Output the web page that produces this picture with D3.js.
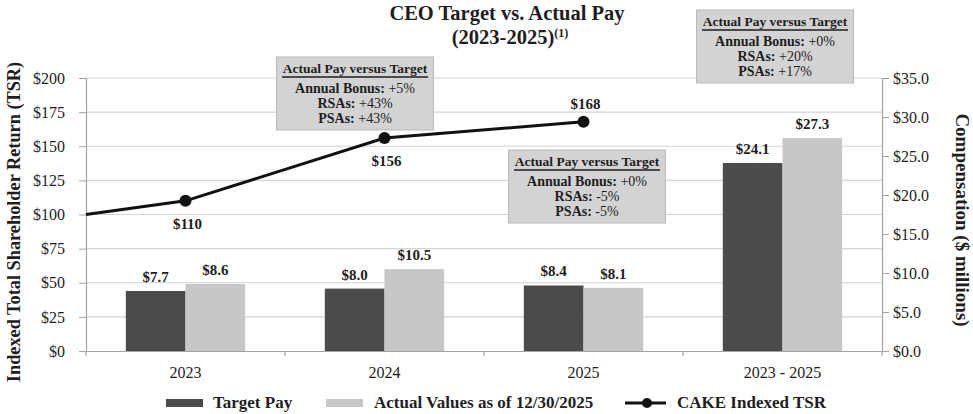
<!DOCTYPE html>
<html>
<head>
<meta charset="utf-8">
<script src="https://cdn.jsdelivr.net/npm/d3@7/dist/d3.min.js"></script>
<style>
  html, body { margin: 0; padding: 0; background: #fff; }
  svg { display: block; font-family: "Liberation Serif", "Times New Roman", serif; }
</style>
</head>
<body>
<svg id="chart" width="973" height="414"></svg>
<script>
// ---------- DATA ----------
const categories = ["2023", "2024", "2025", "2023 - 2025"];
const targetPay = [7.7, 8.0, 8.4, 24.1];
const actualPay = [8.6, 10.5, 8.1, 27.3];
const tsrCategories = ["2023", "2024", "2025"];
const tsrStart = 100;
const tsrValues = [110, 156, 168];
const tsrLabelSide = ["below", "below", "above"];
const leftTicks = [0, 25, 50, 75, 100, 125, 150, 175, 200];
const rightTicks = [0, 5, 10, 15, 20, 25, 30, 35];
const boxBonus = ["+5%", "+0%", "+0%"];
const boxRSAs = ["+43%", "-5%", "+20%"];
const boxPSAs = ["+43%", "-5%", "+17%"];
const legendLabels = ["Target Pay", "Actual Values as of 12/30/2025", "CAKE Indexed TSR"];

// ---------- LAYOUT ----------
const plot = { left: 86, right: 882, top: 78, bottom: 351 };
const boxLayout = [ { cx: 355, top: 57 }, { cx: 587, top: 150 }, { cx: 775, top: 10 } ];
const colors = { target: "#4b4b4d", actual: "#c7c7c9", grid: "#d3d3d3", axis: "#a3a3a3", text: "#1e1e1e", box: "#d3d3d3", boxStroke: "#b9b9b9", line: "#111" };

const svg = d3.select("#chart");

const x0 = d3.scaleBand().domain(categories).range([plot.left, plot.right]).paddingInner(0).paddingOuter(0);
const x1 = d3.scaleBand().domain(["target", "actual"]).range([0, x0.bandwidth()]).paddingInner(0).paddingOuter(0.667);
const yL = d3.scaleLinear().domain([0, 200]).range([plot.bottom, plot.top]);
const yR = d3.scaleLinear().domain([0, 35]).range([plot.bottom, plot.top]);

// gridlines
svg.append("g").selectAll("line").data(leftTicks.filter(d => d > 0)).join("line")
  .attr("x1", plot.left).attr("x2", plot.right)
  .attr("y1", d => yL(d)).attr("y2", d => yL(d))
  .attr("stroke", colors.grid).attr("stroke-width", 1.2);

// left axis
const gL = svg.append("g").attr("transform", `translate(${plot.left},0)`)
  .call(d3.axisLeft(yL).tickValues(leftTicks).tickFormat(d => "$" + d).tickSizeInner(7).tickSizeOuter(0).tickPadding(14));
gL.select(".domain").attr("stroke", colors.axis).attr("stroke-width", 1.2);
gL.selectAll(".tick line").attr("stroke", colors.axis);
gL.selectAll(".tick text").attr("font-size", 16).attr("fill", colors.text).attr("font-family", "Liberation Serif");

// right axis
const gR = svg.append("g").attr("transform", `translate(${plot.right},0)`)
  .call(d3.axisRight(yR).tickValues(rightTicks).tickFormat(d => "$" + d.toFixed(1)).tickSizeInner(7).tickSizeOuter(0).tickPadding(4));
gR.select(".domain").attr("stroke", colors.axis).attr("stroke-width", 1.2);
gR.selectAll(".tick line").attr("stroke", colors.axis);
gR.selectAll(".tick text").attr("font-size", 16).attr("fill", colors.text).attr("font-family", "Liberation Serif");

// bottom axis
const gB = svg.append("g").attr("transform", `translate(0,${plot.bottom})`)
  .call(d3.axisBottom(x0).tickSize(0).tickPadding(16));
gB.select(".domain").attr("stroke", colors.axis).attr("stroke-width", 1.2);
gB.selectAll(".tick text").attr("font-size", 16).attr("fill", colors.text).attr("font-family", "Liberation Serif");
const boundaries = categories.map(c => x0(c)).concat([x0.range()[1]]);
svg.append("g").selectAll("line").data(boundaries).join("line")
  .attr("x1", d => d).attr("x2", d => d)
  .attr("y1", plot.bottom).attr("y2", plot.bottom + 5)
  .attr("stroke", colors.axis).attr("stroke-width", 1.2);

// bars
const barData = categories.map((c, i) => ({ cat: c, target: targetPay[i], actual: actualPay[i] }));
const groups = svg.append("g").selectAll("g").data(barData).join("g")
  .attr("transform", d => `translate(${x0(d.cat)},0)`);
const keys = ["target", "actual"];
groups.selectAll("rect").data(d => keys.map(k => ({ key: k, value: d[k] }))).join("rect")
  .attr("x", d => x1(d.key)).attr("width", x1.bandwidth())
  .attr("y", d => yR(d.value)).attr("height", d => yR(0) - yR(d.value))
  .attr("fill", d => colors[d.key]);
groups.selectAll("text").data(d => keys.map(k => ({ key: k, value: d[k] }))).join("text")
  .attr("x", d => x1(d.key) + x1.bandwidth() / 2)
  .attr("y", d => yR(d.value) - 9)
  .attr("text-anchor", "middle").attr("font-size", 15).attr("font-weight", "bold").attr("fill", colors.text)
  .text(d => "$" + d.value.toFixed(1));

// TSR line
const xc = c => x0(c) + x0.bandwidth() / 2;
const linePts = [{ x: x0.range()[0], y: yL(tsrStart) }].concat(tsrCategories.map((c, i) => ({ x: xc(c), y: yL(tsrValues[i]) })));
svg.append("path").datum(linePts)
  .attr("d", d3.line().x(d => d.x).y(d => d.y))
  .attr("fill", "none").attr("stroke", colors.line).attr("stroke-width", 3);
svg.append("g").selectAll("circle").data(tsrCategories).join("circle")
  .attr("cx", d => xc(d)).attr("cy", (d, i) => yL(tsrValues[i])).attr("r", 6)
  .attr("fill", colors.line);
svg.append("g").selectAll("text").data(tsrCategories).join("text")
  .attr("x", d => xc(d) + 2)
  .attr("y", (d, i) => yL(tsrValues[i]) + (tsrLabelSide[i] === "above" ? -13 : 28))
  .attr("text-anchor", "middle").attr("font-size", 15).attr("font-weight", "bold").attr("fill", colors.text)
  .text((d, i) => "$" + tsrValues[i]);

// annotation boxes
const boxW = 157, boxH = 73;
boxLayout.forEach((b, i) => {
  const g = svg.append("g").attr("transform", `translate(${b.cx},${b.top})`);
  g.append("rect").attr("x", -boxW / 2).attr("y", 0).attr("width", boxW).attr("height", boxH)
    .attr("fill", colors.box).attr("stroke", colors.boxStroke).attr("stroke-width", 1);
  g.append("text").attr("x", 0).attr("y", 16).attr("text-anchor", "middle")
    .attr("font-size", 13.5).attr("font-weight", "bold").attr("fill", colors.text)
    .text("Actual Pay versus Target");
  g.append("line").attr("x1", -73).attr("x2", 73).attr("y1", 20).attr("y2", 20)
    .attr("stroke", colors.text).attr("stroke-width", 1.3);
  const rows = [["Annual Bonus:", boxBonus[i]], ["RSAs:", boxRSAs[i]], ["PSAs:", boxPSAs[i]]];
  rows.forEach((r, j) => {
    const t = g.append("text").attr("x", 0).attr("y", 36 + j * 15).attr("text-anchor", "middle")
      .attr("font-size", 14).attr("fill", colors.text);
    t.append("tspan").attr("font-weight", "bold").text(r[0]);
    t.append("tspan").text(" " + r[1]);
  });
});

// title
svg.append("text").attr("x", 507).attr("y", 19.5).attr("text-anchor", "middle")
  .attr("font-size", 20.5).attr("font-weight", "bold").attr("fill", colors.text)
  .text("CEO Target vs. Actual Pay");
const t2 = svg.append("text").attr("x", 510).attr("y", 43.5).attr("text-anchor", "middle")
  .attr("font-size", 20.5).attr("font-weight", "bold").attr("fill", colors.text);
t2.append("tspan").text("(2023-2025)");
t2.append("tspan").attr("font-size", 12).attr("dy", -7).text("(1)");

// axis titles
svg.append("text").attr("transform", "translate(14,222) rotate(-90)")
  .attr("text-anchor", "middle").attr("dominant-baseline", "central")
  .attr("font-size", 18.3).attr("font-weight", "bold").attr("fill", colors.text)
  .text("Indexed Total Shareholder Return (TSR)");
svg.append("text").attr("transform", "translate(962,220) rotate(90)")
  .attr("text-anchor", "middle").attr("dominant-baseline", "central")
  .attr("font-size", 19).attr("font-weight", "bold").attr("fill", colors.text)
  .text("Compensation ($ millions)");

// legend
const lg = svg.append("g");
const lgY = 408;
lg.append("rect").attr("x", 166).attr("y", 399).attr("width", 37).attr("height", 8).attr("fill", colors.target);
lg.append("text").attr("x", 213).attr("y", lgY).attr("font-size", 17).attr("font-weight", "bold").attr("fill", colors.text).text(legendLabels[0]);
lg.append("rect").attr("x", 326).attr("y", 399).attr("width", 37).attr("height", 8).attr("fill", colors.actual);
lg.append("text").attr("x", 374).attr("y", lgY).attr("font-size", 17).attr("font-weight", "bold").attr("fill", colors.text).text(legendLabels[1]);
lg.append("line").attr("x1", 625).attr("x2", 666).attr("y1", 403).attr("y2", 403).attr("stroke", colors.line).attr("stroke-width", 3);
lg.append("circle").attr("cx", 647).attr("cy", 403).attr("r", 5).attr("fill", colors.line);
lg.append("text").attr("x", 677).attr("y", lgY).attr("font-size", 17).attr("font-weight", "bold").attr("fill", colors.text).text(legendLabels[2]);
</script>
</body>
</html>
